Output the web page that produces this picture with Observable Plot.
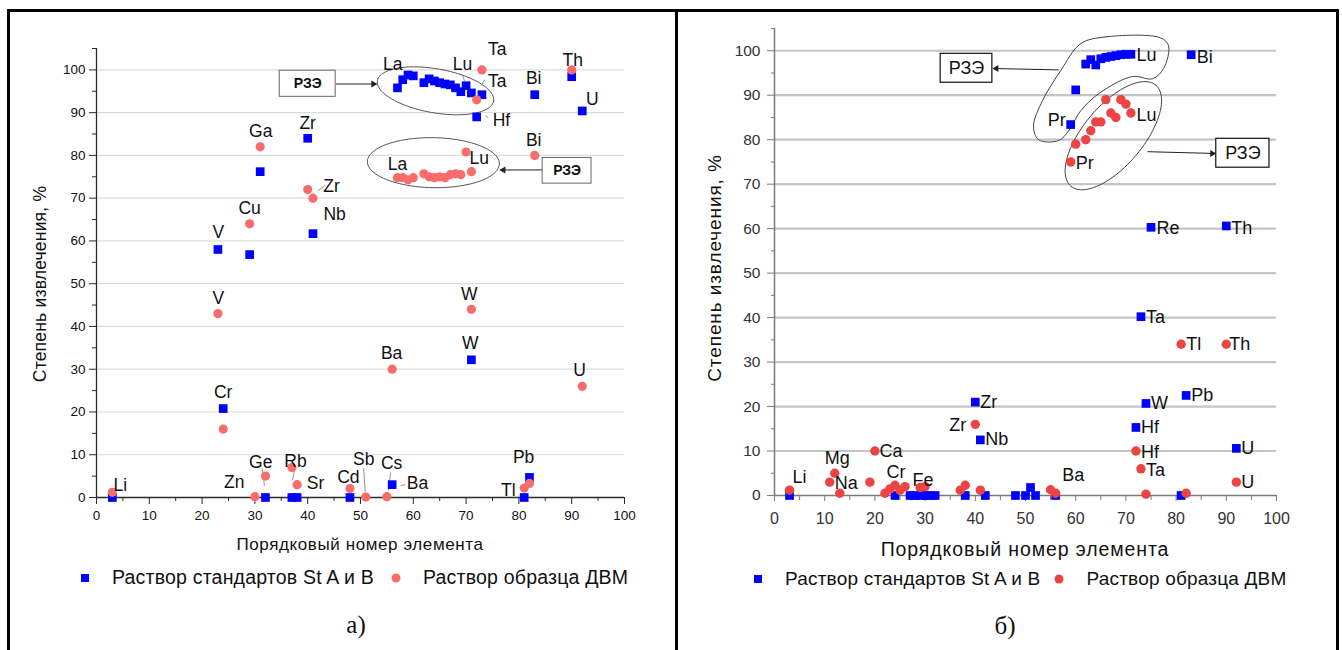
<!DOCTYPE html>
<html><head><meta charset="utf-8">
<script src="https://cdn.jsdelivr.net/npm/d3@7"></script>
<script src="https://cdn.jsdelivr.net/npm/@observablehq/plot@0.6"></script>
<style>
body{margin:0;background:#fff;}
#page{position:relative;width:1342px;height:650px;overflow:hidden;font-family:"Liberation Sans",Arial,sans-serif;color:#111;}
.abs{position:absolute;white-space:nowrap;}
.frame{position:absolute;background:#000;}
.plot{position:absolute;top:0;}
.cap{font-family:"Liberation Serif","Times New Roman",serif;font-size:25px;}
.ytitle{transform:translate(-50%,-50%) rotate(-90deg);}
.ctr{transform:translate(-50%,-50%);}
.lg{display:flex;align-items:center;}
</style></head><body>
<div id="page">
  <div class="frame" style="left:7px;top:9px;width:1332px;height:3px"></div>
  <div class="frame" style="left:7px;top:9px;width:3px;height:650px"></div>
  <div class="frame" style="left:1336px;top:9px;width:3px;height:650px"></div>
  <div class="frame" style="left:675px;top:9px;width:3px;height:650px"></div>
  <div id="left" class="plot" style="left:0"></div>
  <div id="right" class="plot" style="left:676px"></div>
  <div class="abs ytitle" style="left:40px;top:284px;font-size:17.5px;letter-spacing:0.2px">Степень извлечения, %</div>
  <div class="abs ytitle" style="left:715px;top:268px;font-size:19px;letter-spacing:0.9px">Степень извлечения, %</div>
  <div class="abs ctr" style="left:360px;top:545px;font-size:17px;letter-spacing:0.6px">Порядковый номер элемента</div>
  <div class="abs ctr" style="left:1025px;top:549px;font-size:19.5px;letter-spacing:0.9px">Порядковый номер элемента</div>
  <div id="legA" class="abs" style="left:80px;top:566px;font-size:19.5px"></div>
  <div id="legB" class="abs" style="left:753px;top:568px;font-size:19px"></div>
  <div class="abs cap ctr" style="left:356px;top:625px">а)</div>
  <div class="abs cap ctr" style="left:1005px;top:626px">б)</div>
</div>
<script>
// ---------- Panel а) data ----------
const aStdZ = [3,23,24,29,31,32,37,38,40,41,48,56,57,58,59,60,62,63,64,65,66,67,68,69,70,71,72,73,71,81,82,83,90,92];
const aStdV = [0,58,20.8,56.8,76.2,0,0,0,84,61.7,0,3,95.8,97.7,98.8,98.6,97,97.9,97.4,97,96.7,96.5,95.8,94.9,96.3,94.6,89,94.2,32.2,0,4.7,94.2,98.4,90.4];
const aSmpZ = [3,23,24,29,30,31,32,37,38,40,41,48,51,55,56,57,58,59,60,62,63,64,65,66,67,68,69,70,71,72,73,71,81,82,83,90,92];
const aSmpV = [1.2,43,16,64,0.2,82,5,7,3,72,70,2.1,0.1,0.2,30,74.8,74.8,74.3,74.8,75.7,75,74.8,75,74.8,75.5,75.7,75.5,80.8,76.2,93,100,44,2.2,3.3,80,100,26];
const aLabT = ["Li","V","V","Ga","Zr","Zr","Nb","Cu","Cr","Zn","Ge","Rb","Sr","Cd","Sb","Cs","Ba","Ba","W","W","U","Pb","Tl","La","Lu","Ta","Ta","Hf","Bi","Th","U","Bi","La","Lu"];
const aLabZ = [4.5,23.1,23.1,31.1,40,44.5,45.1,29,24,26.1,31.1,37.7,41.5,47.7,50.6,55.9,60.8,55.9,70.6,70.8,91.5,80.9,78,56.1,69.3,75.9,75.9,76.7,82.8,90.2,93.9,82.8,57,72.5];
const aLabV = [2.8,62.1,46.5,85.7,87.4,72.7,66.1,67.5,24.5,3.5,8.2,8.4,3.3,4.7,8.9,7.9,3.3,33.6,47.4,36,29.7,9.3,1.6,101.2,101.4,104.9,97.4,88.3,97.9,102.3,93.2,83.6,78,79.2];
// leader lines (data coords)
const aLeadZ1 = [31.4,37.5,50.6,55.7,58.5,41.9,72.9,73.7,69.3];
const aLeadV1 = [6.8,6.3,6.8,5.8,3.0,71.7,96.3,89.3,98.8];
const aLeadZ2 = [31.8,37.1,50.9,55.3,57.6,43.2,73.5,74.2,69.7];
const aLeadV2 = [2.8,4.0,1.2,1.6,2.8,72.9,97.7,88.8,97.4];
// РЗЭ boxes: [z1,z2,v1,v2]
const aBoxes = [[34.7,45.3,93.7,99.8],[84.5,93.75,73.4,79.4]];
const aArrows = [[45.3,96.7,53,96.7],[84.5,76.6,76.5,76.6]];
const aEll = [[64.2,95.1,59,22,10],[63.8,78.3,66,25,1]];

// ---------- Panel б) data ----------
const bStdZ = [3,24,27,28,29,30,31,32,38,40,41,42,48,50,51,52,56,59,60,62,63,64,65,66,67,68,69,70,71,72,73,74,75,81,82,83,90,92];
const bStdV = [0,0,0,0,0,0,0,0,0,21,12.5,0,0,0,1.8,0,0,83.4,91.2,97,98,96.8,98.2,98.5,98.7,98.9,99.1,99.2,99.2,15.3,40.2,20.7,60.3,0,22.5,99.1,60.6,10.6];
const bSmpZ = [3,11,12,13,19,20,22,23,24,25,26,29,30,37,38,40,41,55,56,59,60,62,63,64,65,66,67,68,69,70,71,72,73,74,81,82,90,92];
const bSmpV = [1.2,3,5,0.5,3,10,0.5,1.5,2.3,1.2,2,1.8,2,1.2,2.3,16,1.2,1.3,0.5,75,79,80,82,84,84,89,86,85,89,88,86,10,6,0.3,34,0.5,34,3];
const bLabT = ["Lu","Bi","Lu","Pr","Re","Th","Ta","Tl","Th","Pb","W","Hf","Hf","U","Ta","U","Zr","Nb","Ca","Na","Li","Cr","Fe"];
const bLabZ = [72.1,84.1,72.1,60,76.1,91,74,82,90.6,83,75,73,73,93,74,93,41,42,20.9,12,3.6,22.3,27.5];
const bLabV = [98.9,98.6,85.4,74.6,60.2,60.2,40,34,34,22.5,20.7,15.3,9.7,10.6,5.6,2.9,20.9,12.6,10,2.7,4,5.3,3.4];
const bLabEndT = ["Pr","Zr"], bLabEndZ = [58,38.2], bLabEndV = [84.3,15.7];
const bLabMidT = ["Mg","Ba"], bLabMidZ = [12.5,59.5], bLabMidV = [8.3,4.5];
const bBoxes = [[33.1,43.4,92.8,99.3],[88,98.6,73.7,80.2]];
const bArrows = [[56.6,95.7,43.6,96.0],[74.3,77.3,87.8,76.9]];
const bBlobZ = [61.0,65.9,76.9,78.5,77.5,75.3,71.3,64.9,61.0,58.6,56.6,52.6,51.6,53.4,57.0];
const bBlobV = [101.6,103.1,102.9,101.1,96.0,93.7,94.2,90.6,86.5,82.0,79.8,80.0,83.1,88.8,95.5];
const bEll = [[67.5,80.9,66,30,-50]];

const legendNames = ["Раствор стандартов St A и B","Раствор образца ДВМ"];

// ---------- helpers ----------
const rows = (zs, vs) => zs.map((z,i)=>({z, v: vs[i]}));
const labs = (ts, zs, vs) => ts.map((t,i)=>({t, z: zs[i], v: vs[i]}));
function ellipsePts(e, kx, ky){
  const [cz,cv,rx,ry,deg] = e, a = deg*Math.PI/180;
  return d3.range(0,97).map(i=>{
    const t = i/96*2*Math.PI;
    const dx = rx*Math.cos(t)*Math.cos(a) - ry*Math.sin(t)*Math.sin(a);
    const dy = rx*Math.cos(t)*Math.sin(a) + ry*Math.sin(t)*Math.cos(a);
    return {z: cz + dx/kx, v: cv - dy/ky, g: e.join()};
  });
}
function arrowMarks(arr, color){
  const d = arr.map(([z1,v1,z2,v2])=>({z1,v1,z2,v2,right: z2>z1}));
  return [
    Plot.link(d, {x1:"z1",y1:"v1",x2:"z2",y2:"v2",stroke:color,strokeWidth:1}),
    Plot.dot(d.filter(r=>r.right), {x:"z2",y:"v2",symbol:"triangle",rotate:90,r:2.6,fill:color,dx:-3}),
    Plot.dot(d.filter(r=>!r.right), {x:"z2",y:"v2",symbol:"triangle",rotate:-90,r:2.6,fill:color,dx:3})
  ];
}
const boxRows = b => b.map(([z1,z2,v1,v2])=>({z1,z2,v1,v2,zc:(z1+z2)/2,vc:(v1+v2)/2}));

// ---------- Panel а) ----------
const A = {w:676,h:530,ml:96,mr:52,mt:48,mb:33};
const aKx = (A.w-A.ml-A.mr)/100, aKy = (A.h-A.mt-A.mb)/105;
const aEllPts = aEll.flatMap(e=>ellipsePts(e,aKx,aKy));
const aLead = aLeadZ1.map((z,i)=>({z1:z,v1:aLeadV1[i],z2:aLeadZ2[i],v2:aLeadV2[i]}));
const axisCol = "#2b2b2b";
const plotA = Plot.plot({
  width:A.w, height:A.h, marginLeft:A.ml, marginRight:A.mr, marginTop:A.mt, marginBottom:A.mb,
  x:{domain:[0,100]}, y:{domain:[0,105]},
  style:{fontFamily:"'Liberation Sans',Arial,sans-serif",fontSize:"13.5px",background:"transparent",overflow:"visible",color:"#111"},
  marks:[
    Plot.ruleY(d3.range(10,101,10), {stroke:"#dcdcdc",strokeWidth:1.2}),
    Plot.ruleX([0], {y1:0,y2:105,stroke:axisCol,strokeWidth:1.3}),
    Plot.ruleY([0], {stroke:axisCol,strokeWidth:1.3}),
    Plot.axisX({ticks:d3.range(0,101,10),tickSize:7,tickPadding:6,stroke:axisCol,fontSize:13.5,label:null}),
    Plot.axisX({ticks:d3.range(5,100,10),tickSize:4,tickFormat:()=>"",stroke:axisCol,label:null}),
    Plot.axisY({ticks:d3.range(0,101,10),tickSize:7,tickPadding:4,stroke:axisCol,fontSize:13.5,label:null}),
    Plot.axisY({ticks:d3.range(5,106,10),tickSize:4,tickFormat:()=>"",stroke:axisCol,label:null}),
    Plot.line(aEllPts, {x:"z",y:"v",z:"g",stroke:"#555",strokeWidth:1,curve:"linear"}),
    ...arrowMarks(aArrows,"#222"),
    Plot.rect(boxRows(aBoxes), {x1:"z1",x2:"z2",y1:"v1",y2:"v2",fill:"#fff",stroke:"#666",strokeWidth:1}),
    Plot.text(boxRows(aBoxes), {x:"zc",y:"vc",text:()=>"РЗЭ",fontSize:14,fontWeight:"bold",fill:"#111"}),
    Plot.link(aLead, {x1:"z1",y1:"v1",x2:"z2",y2:"v2",stroke:"#777",strokeWidth:0.8}),
    Plot.dot(rows(aStdZ,aStdV), {x:"z",y:"v",symbol:"square",r:4.9,fill:"#0000ff"}),
    Plot.dot(rows(aSmpZ,aSmpV), {x:"z",y:"v",symbol:"circle",r:4.6,fill:"#f86c6c"}),
    Plot.text(labs(aLabT,aLabZ,aLabV), {x:"z",y:"v",text:"t",fontSize:17.5,fill:"#111"})
  ]
});
document.getElementById("left").appendChild(plotA);

// ---------- Panel б) ----------
const B = {w:666,h:530,ml:98,mr:66,mt:28,mb:35};
const bKx = (B.w-B.ml-B.mr)/100, bKy = (B.h-B.mt-B.mb)/105;
const bEllPts = bEll.flatMap(e=>ellipsePts(e,bKx,bKy));
const bBlob = rows(bBlobZ,bBlobV);
const bAxis = "#7a7a7a";
const plotB = Plot.plot({
  width:B.w, height:B.h, marginLeft:B.ml, marginRight:B.mr, marginTop:B.mt, marginBottom:B.mb,
  x:{domain:[0,100]}, y:{domain:[0,105]},
  style:{fontFamily:"'Liberation Sans',Arial,sans-serif",fontSize:"15px",background:"transparent",overflow:"visible",color:"#333"},
  marks:[
    Plot.ruleY(d3.range(10,101,10), {stroke:"#c4c4c4",strokeWidth:2.2}),
    Plot.ruleX([0], {y1:0,y2:105,stroke:bAxis,strokeWidth:1.5}),
    Plot.ruleY([0], {stroke:bAxis,strokeWidth:1.5}),
    Plot.axisX({ticks:d3.range(0,101,10),tickSize:6,tickPadding:11,stroke:bAxis,fontSize:16,fill:"#333",label:null}),
    Plot.axisX({ticks:d3.range(5,100,10),tickSize:5,tickFormat:()=>"",stroke:bAxis,label:null}),
    Plot.axisY({ticks:d3.range(0,101,10),tickSize:7,tickPadding:7,stroke:bAxis,fontSize:15.5,fill:"#333",label:null}),
    Plot.axisY({ticks:d3.range(5,106,10),tickSize:3,tickFormat:()=>"",stroke:bAxis,label:null}),
    Plot.line(bBlob, {x:"z",y:"v",stroke:"#444",strokeWidth:1,curve:"catmull-rom-closed"}),
    Plot.line(bEllPts, {x:"z",y:"v",z:"g",stroke:"#444",strokeWidth:1,curve:"linear"}),
    ...arrowMarks(bArrows,"#222"),
    Plot.rect(boxRows(bBoxes), {x1:"z1",x2:"z2",y1:"v1",y2:"v2",fill:"#fff",stroke:"#111",strokeWidth:1.2}),
    Plot.text(boxRows(bBoxes), {x:"zc",y:"vc",text:()=>"РЗЭ",fontSize:18,fill:"#111"}),
    Plot.dot(rows(bStdZ,bStdV), {x:"z",y:"v",symbol:"square",r:4.9,fill:"#0000ff"}),
    Plot.dot(rows(bSmpZ,bSmpV), {x:"z",y:"v",symbol:"circle",r:4.7,fill:"#ec4343"}),
    Plot.text(labs(bLabT,bLabZ,bLabV), {x:"z",y:"v",text:"t",textAnchor:"start",fontSize:18,fill:"#111"}),
    Plot.text(labs(bLabEndT,bLabEndZ,bLabEndV), {x:"z",y:"v",text:"t",textAnchor:"end",fontSize:18,fill:"#111"}),
    Plot.text(labs(bLabMidT,bLabMidZ,bLabMidV), {x:"z",y:"v",text:"t",fontSize:18,fill:"#111"})
  ]
});
document.getElementById("right").appendChild(plotB);

// ---------- Legends ----------
function legend(el, red, gapTxt, gapMid, spacing){
  el.innerHTML = `<div class="lg">
    <svg width="12" height="22"><rect x="1" y="7" width="8" height="8" fill="#0000ff"/></svg>
    <span style="margin-left:${gapTxt}px;letter-spacing:${spacing}px">${legendNames[0]}</span>
    <svg width="12" height="22" style="margin-left:${gapMid}px"><circle cx="5" cy="11" r="4.5" fill="${red}"/></svg>
    <span style="margin-left:${gapTxt}px;letter-spacing:${spacing}px">${legendNames[1]}</span></div>`;
}
legend(document.getElementById("legA"), "#f86c6c", 20, 17, 0.2);
legend(document.getElementById("legB"), "#ec4343", 20, 14, 0.2);
</script>
</body></html>
